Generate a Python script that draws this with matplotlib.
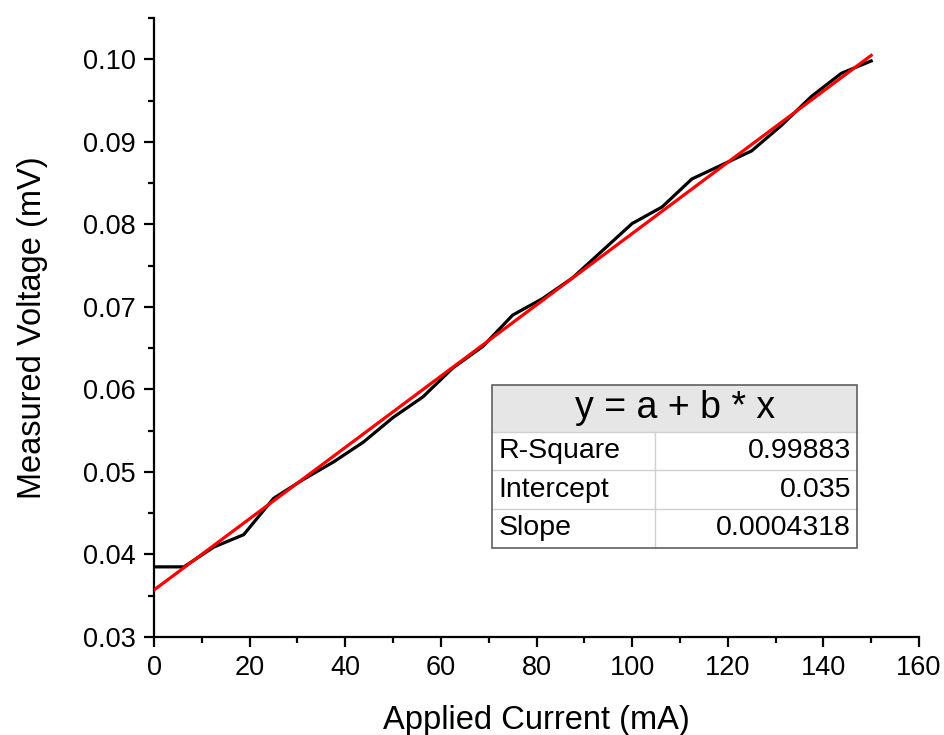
import numpy as np
import matplotlib
matplotlib.use("Agg")
import matplotlib.pyplot as plt
from matplotlib.patches import Rectangle
from matplotlib.ticker import MultipleLocator, FormatStrFormatter

plt.rcParams['font.family'] = ['Liberation Sans', 'DejaVu Sans']

##### data #####

current = [0, 6.25, 12.5, 18.75, 25, 31.25, 37.5, 43.75, 50, 56.25, 62.5, 68.75,
           75, 81.25, 87.5, 93.75, 100, 106.25, 112.5, 118.75, 125, 131.25,
           137.5, 143.75, 150]
voltage = [0.0385, 0.0385, 0.0409, 0.0424, 0.0468, 0.0491, 0.0512, 0.0536, 0.0566,
           0.0591, 0.0626, 0.0652, 0.0690, 0.0710, 0.0735, 0.0768, 0.0801, 0.0821,
           0.0855, 0.0872, 0.0889, 0.0920, 0.0955, 0.0983, 0.0998]

# linear fit shown in red
fit_intercept = 0.0357
fit_slope = 0.0004318

fit_labels = ["R-Square", "Intercept", "Slope"]
fit_values = ["0.99883", "0.035", "0.0004318"]

##### plot #####

fig = plt.figure(figsize=(9.45, 7.35), dpi=100)
ax = fig.add_axes([0.163, 0.1333, 0.8095, 0.8422])

ax.plot(current, voltage, color="black", lw=2.3, zorder=2)
xf = np.array([current[0], current[-1]])
ax.plot(xf, fit_intercept + fit_slope * xf, color="#ff0000", lw=2.3, zorder=3)

ax.set_xlim(0, 160)
ax.set_ylim(0.03, 0.105)
ax.xaxis.set_major_locator(MultipleLocator(20))
ax.xaxis.set_minor_locator(MultipleLocator(10))
ax.yaxis.set_major_locator(MultipleLocator(0.01))
ax.yaxis.set_minor_locator(MultipleLocator(0.005))
ax.yaxis.set_major_formatter(FormatStrFormatter("%.2f"))

for s in ["top", "right"]:
    ax.spines[s].set_visible(False)
for s in ["left", "bottom"]:
    ax.spines[s].set_linewidth(1.6)
ax.tick_params(which="major", direction="out", length=7, width=1.6, labelsize=19.5, pad=6)
ax.tick_params(which="minor", direction="out", length=4, width=1.6)

ax.set_xlabel("Applied Current (mA)", fontsize=23.5, labelpad=17)
ax.set_ylabel("Measured Voltage (mV)", fontsize=23.5, labelpad=25)

# fit result table
x0, x1 = 0.442, 0.919
ysplit = 0.332
y0, y1 = 0.144, 0.407
xm = (655 - 154) / 765.0
row_h = (ysplit - y0) / 3.0

ax.add_patch(Rectangle((x0, ysplit), x1 - x0, y1 - ysplit, transform=ax.transAxes,
                       facecolor="#e6e6e6", edgecolor="none", zorder=4))
ax.add_patch(Rectangle((x0, y0), x1 - x0, ysplit - y0, transform=ax.transAxes,
                       facecolor="white", edgecolor="none", zorder=4))
for i in range(0, 3):
    yy = ysplit - i * row_h
    ax.plot([x0, x1], [yy, yy], transform=ax.transAxes, color="#d0d0d0", lw=1, zorder=5)
ax.plot([xm, xm], [y0, ysplit], transform=ax.transAxes, color="#d0d0d0", lw=1, zorder=5)
ax.add_patch(Rectangle((x0, y0), x1 - x0, y1 - y0, transform=ax.transAxes,
                       facecolor="none", edgecolor="#606060", lw=1.2, zorder=6))

ax.text((x0 + x1) / 2, (ysplit + y1) / 2, "y = a + b * x", transform=ax.transAxes,
        ha="center", va="center", fontsize=27, zorder=7)
for i in range(3):
    yc = ysplit - (i + 0.5) * row_h
    ax.text(x0 + 0.008, yc, fit_labels[i], transform=ax.transAxes,
            ha="left", va="center", fontsize=20.5, zorder=7)
    ax.text(x1 - 0.008, yc, fit_values[i], transform=ax.transAxes,
            ha="right", va="center", fontsize=20.5, zorder=7)

fig.savefig("out.png", dpi=100)
